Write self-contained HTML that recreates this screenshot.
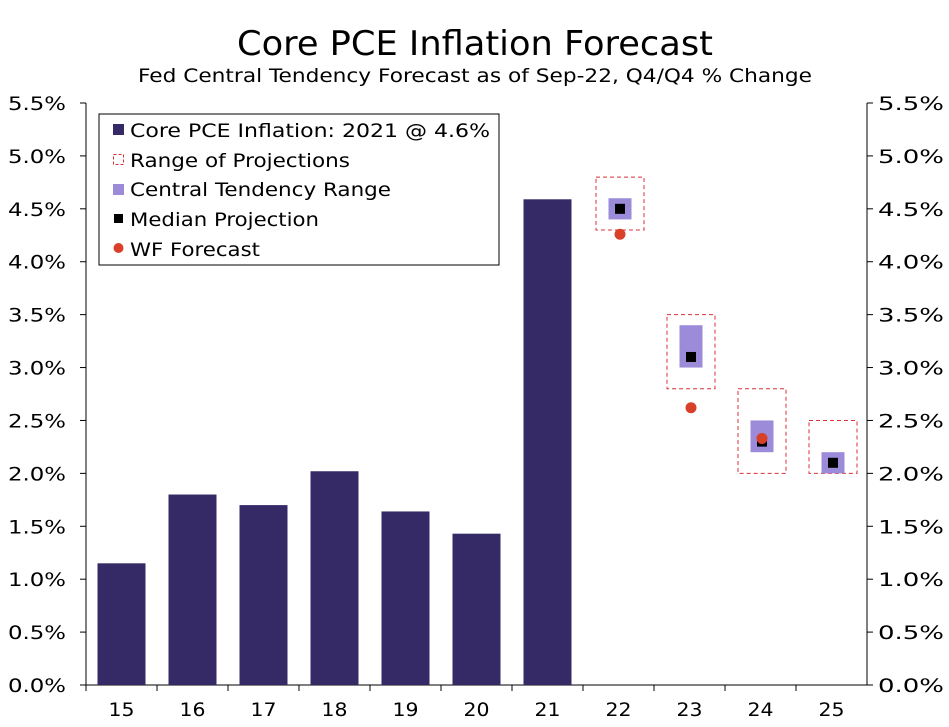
<!DOCTYPE html>
<html><head><meta charset="utf-8"><style>
body{margin:0;background:#fff;}
svg{display:block;font-family:"DejaVu Sans","Liberation Sans",sans-serif;}
</style></head><body>
<svg id="c" width="949" height="727">
<text x="475" y="55" text-anchor="middle" font-size="34" textLength="476" lengthAdjust="spacingAndGlyphs">Core PCE Inflation Forecast</text>
<text x="475" y="82" text-anchor="middle" font-size="19" textLength="674" lengthAdjust="spacingAndGlyphs">Fed Central Tendency Forecast as of Sep-22, Q4/Q4 % Change</text>
<g id="axes"></g><g id="marks"></g>
<g font-size="19">
<rect x="99" y="114" width="400" height="151" fill="#fff" stroke="#000" stroke-width="1"/>
<rect x="113" y="124" width="11" height="11" fill="#352a66"/>
<text x="130" y="137" textLength="360" lengthAdjust="spacingAndGlyphs">Core PCE Inflation: 2021 @ 4.6%</text>
<rect x="113.5" y="154.5" width="10" height="10" fill="none" stroke="#d9303a" stroke-dasharray="3,2"/>
<text x="130" y="167" textLength="220" lengthAdjust="spacingAndGlyphs">Range of Projections</text>
<rect x="113" y="184" width="11" height="11" fill="#9b8bd9"/>
<text x="130" y="196" textLength="261" lengthAdjust="spacingAndGlyphs">Central Tendency Range</text>
<rect x="114" y="214" width="9" height="9" fill="#000"/>
<text x="130" y="226" textLength="189" lengthAdjust="spacingAndGlyphs">Median Projection</text>
<circle cx="118.5" cy="248" r="5" fill="#d9402a"/>
<text x="130" y="256" textLength="130" lengthAdjust="spacingAndGlyphs">WF Forecast</text>
</g>
</svg>
<script>
const categories=["15","16","17","18","19","20","21","22","23","24","25"];
const actual=[1.15,1.80,1.70,2.02,1.64,1.43,4.59,null,null,null,null];
const rangeLow=[null,null,null,null,null,null,null,4.3,2.8,2.0,2.0];
const rangeHigh=[null,null,null,null,null,null,null,4.8,3.5,2.8,2.5];
const ctLow=[null,null,null,null,null,null,null,4.4,3.0,2.2,2.0];
const ctHigh=[null,null,null,null,null,null,null,4.6,3.4,2.5,2.2];
const median=[null,null,null,null,null,null,null,4.5,3.1,2.3,2.1];
const wf=[null,null,null,null,null,null,null,4.26,2.62,2.33,null];
const yTicks=[0,0.5,1,1.5,2,2.5,3,3.5,4,4.5,5,5.5];

const NS="http://www.w3.org/2000/svg";
const L=86,R=867,T=103,B=685;
const bw=(R-L)/categories.length;
const x=i=>L+bw*(i+0.5)+(i>=7?1.5:0);
const y=v=>B-(v/5.5)*(B-T);
function mk(p,tag,a){const e=document.createElementNS(NS,tag);for(const k in a)e.setAttribute(k,a[k]);p.appendChild(e);return e;}
const ax=document.getElementById('axes'),mg=document.getElementById('marks');
let e;
e=mk(ax,'line',{x1:L,y1:T,x2:L,y2:B,stroke:'#000'});


e=mk(ax,'line',{x1:R,y1:T,x2:R,y2:B,stroke:'#000'});


e=mk(ax,'line',{x1:L,y1:B,x2:R,y2:B,stroke:'#000'});


yTicks.forEach(v=>{
  mk(ax,'line',{x1:L-6,x2:L,y1:y(v),y2:y(v),stroke:'#000'});
  mk(ax,'line',{x1:R,x2:R+6,y1:y(v),y2:y(v),stroke:'#000'});
  e=mk(ax,'text',{x:8,y:y(v)+7,'font-size':19,textLength:58,lengthAdjust:'spacingAndGlyphs'});
  e.textContent=v.toFixed(1)+'%';
  
  
  e=mk(ax,'text',{x:878,y:y(v)+7,'font-size':19,textLength:66,lengthAdjust:'spacingAndGlyphs'});
  e.textContent=v.toFixed(1)+'%';
  
  
});
categories.forEach((c,i)=>{
  mk(ax,'line',{x1:L+bw*i,x2:L+bw*i,y1:B,y2:B+6,stroke:'#000'});
  e=mk(ax,'text',{x:L+bw*(i+0.5),y:B+31,'text-anchor':'middle','font-size':19,textLength:26,lengthAdjust:'spacingAndGlyphs'});
  e.textContent=c;
  
  
  if(actual[i]!=null){
    e=mk(mg,'rect',{x:x(i)-24,y:y(actual[i]),width:48,height:B-y(actual[i]),fill:'#352a66'});
    
    
  }
  if(rangeLow[i]!=null){
    e=mk(mg,'rect',{x:x(i)-24,y:y(rangeHigh[i]),width:48,height:y(rangeLow[i])-y(rangeHigh[i]),fill:'none',stroke:'#d9303a','stroke-dasharray':'4,3'});
    
    
  }
  if(ctLow[i]!=null){
    e=mk(mg,'rect',{x:x(i)-11.5,y:y(ctHigh[i]),width:23,height:y(ctLow[i])-y(ctHigh[i]),fill:'#9b8bd9'});
    
    
  }
  if(median[i]!=null){
    e=mk(mg,'rect',{x:x(i)-5,y:y(median[i])-5,width:10,height:10,fill:'#000'});
    
    
  }
  if(wf[i]!=null){
    e=mk(mg,'circle',{cx:x(i),cy:y(wf[i]),r:5.5,fill:'#d9402a'});
    
    
  }
});
</script>
</body></html>
